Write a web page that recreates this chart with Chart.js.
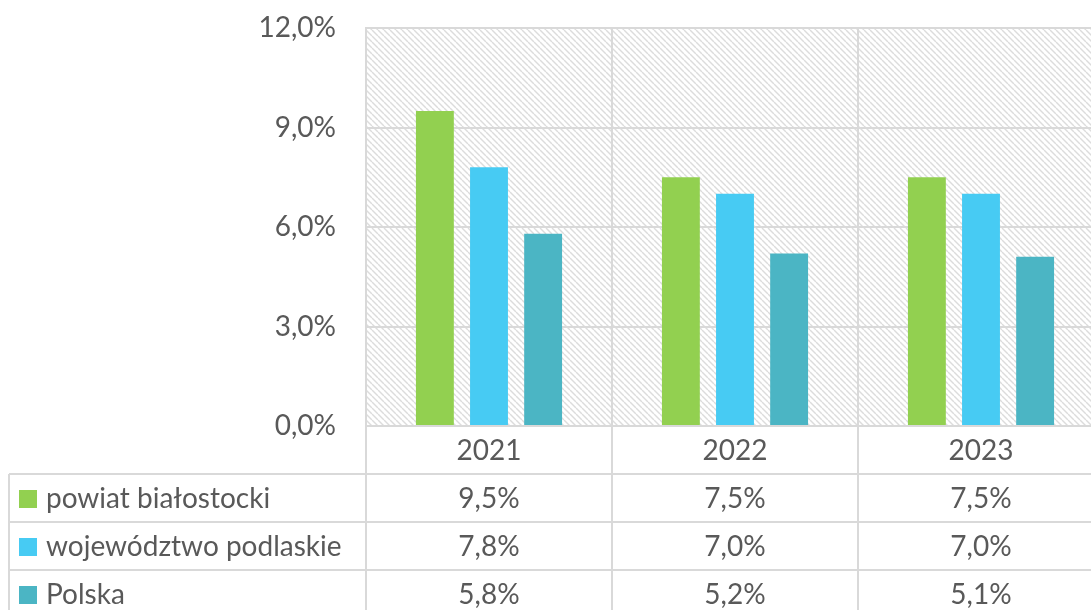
<!DOCTYPE html>
<html>
<head>
<meta charset="utf-8">
<script src="https://cdn.jsdelivr.net/npm/chart.js@4/dist/chart.umd.min.js"></script>
<style>
  html, body { margin: 0; padding: 0; background: #fff; overflow: hidden; }
  #wrap { width: 1104px; height: 610px; }
</style>
</head>
<body>
<div id="wrap"><canvas id="chart" width="1104" height="610"></canvas></div>
<script>
// data
var years = ["2021", "2022", "2023"];
var seriesNames = ["powiat białostocki", "województwo podlaskie", "Polska"];
var powiat = [9.5, 7.5, 7.5];
var wojewodztwo = [7.8, 7.0, 7.0];
var polska = [5.8, 5.2, 5.1];
var yTicks = [0, 3, 6, 9, 12];

var colors = ["#92d050", "#47cbf3", "#4bb5c4"];
var textColor = "#595959";
var lineColor = "#d9d9d9";
var fontFamily = "Lato, 'Open Sans', sans-serif";
var fontSize = 28;
var rowH = 48;

//format like 9,5%
function pct(v) {
  return v.toFixed(1).replace(".", ",") + "%";
}

//diagonal hatch for the plot area
function makeHatch() {
  var c = document.createElement("canvas");
  c.width = 6;
  c.height = 6;
  var g = c.getContext("2d");
  g.fillStyle = "#fff";
  g.fillRect(0, 0, 6, 6);
  g.strokeStyle = "#dcdcdc";
  g.lineWidth = 1.4;
  for (var o = -6; o <= 6; o += 6) {
    g.beginPath();
    g.moveTo(o, 0);
    g.lineTo(o + 6, 6);
    g.stroke();
  }
  return g.createPattern(c, "repeat");
}

var hatchPlugin = {
  id: "hatch",
  beforeDraw: function (chart) {
    var a = chart.chartArea;
    var ctx = chart.ctx;
    ctx.save();
    ctx.fillStyle = "#fff";
    ctx.fillRect(0, 0, chart.width, chart.height);
    ctx.fillStyle = makeHatch();
    ctx.fillRect(a.left, a.top, a.right - a.left, a.bottom - a.top);
    ctx.restore();
  },
};

//data table under the chart, built from the same arrays
var tablePlugin = {
  id: "dataTable",
  afterDraw: function (chart) {
    var ctx = chart.ctx;
    var a = chart.chartArea;
    var x = chart.scales.x;
    var colW = x.width / years.length;
    var rows = [powiat, wojewodztwo, polska];
    var tableLeft = 9;
    ctx.save();
    ctx.strokeStyle = lineColor;
    ctx.lineWidth = 2;
    //vertical lines
    for (var i = 0; i <= years.length; i++) {
      var vx = Math.round(a.left + i * colW);
      ctx.beginPath();
      ctx.moveTo(vx, a.bottom);
      ctx.lineTo(vx, chart.height);
      ctx.stroke();
    }
    ctx.beginPath();
    ctx.moveTo(tableLeft, a.bottom + rowH);
    ctx.lineTo(tableLeft, chart.height);
    ctx.stroke();
    //horizontal lines
    for (var r = 1; r <= rows.length; r++) {
      var hy = Math.round(a.bottom + r * rowH);
      ctx.beginPath();
      ctx.moveTo(tableLeft, hy);
      ctx.lineTo(a.right, hy);
      ctx.stroke();
    }
    ctx.font = fontSize + "px " + fontFamily;
    ctx.fillStyle = textColor;
    ctx.textBaseline = "middle";
    ctx.textAlign = "center";
    years.forEach(function (y, i) {
      ctx.fillText(y, x.getPixelForValue(i), a.bottom + rowH / 2 + 1);
    });
    rows.forEach(function (vals, r) {
      var cy = a.bottom + (r + 1) * rowH + rowH / 2 + 1;
      vals.forEach(function (v, i) {
        ctx.textAlign = "center";
        ctx.fillText(pct(v), x.getPixelForValue(i), cy);
      });
      //legend key and name
      ctx.fillStyle = colors[r];
      ctx.fillRect(19, cy - 9, 18, 18);
      ctx.fillStyle = textColor;
      ctx.textAlign = "left";
      ctx.fillText(seriesNames[r], 46, cy);
    });
    ctx.restore();
  },
};

var ctx = document.getElementById("chart").getContext("2d");
var config = {
  type: "bar",
  data: {
    labels: years,
    datasets: [
      { label: seriesNames[0], data: powiat, backgroundColor: colors[0] },
      { label: seriesNames[1], data: wojewodztwo, backgroundColor: colors[1] },
      { label: seriesNames[2], data: polska, backgroundColor: colors[2] },
    ],
  },
  options: {
    responsive: false,
    animation: false,
    categoryPercentage: 0.66,
    barPercentage: 0.7,
    layout: { padding: { top: 28, bottom: 184, left: 0, right: 0 } },
    plugins: { legend: { display: false }, tooltip: { enabled: false } },
    scales: {
      x: {
        grid: { color: lineColor, lineWidth: 2, drawTicks: false },
        border: { display: false },
        ticks: { display: false },
      },
      y: {
        min: 0,
        max: 12,
        afterBuildTicks: function (s) {
          s.ticks = yTicks.map(function (v) { return { value: v }; });
        },
        afterFit: function (s) {
          s.width = 366;
          s.paddingTop = 0;
          s.paddingBottom = 0;
        },
        grid: { color: lineColor, lineWidth: 2, drawTicks: false },
        border: { color: lineColor, width: 2 },
        ticks: {
          padding: 30,
          color: textColor,
          font: { family: fontFamily, size: fontSize },
          callback: function (v) { return pct(v); },
        },
      },
    },
  },
  plugins: [hatchPlugin, tablePlugin],
};
var myChart = new Chart(ctx, config);
</script>
</body>
</html>
